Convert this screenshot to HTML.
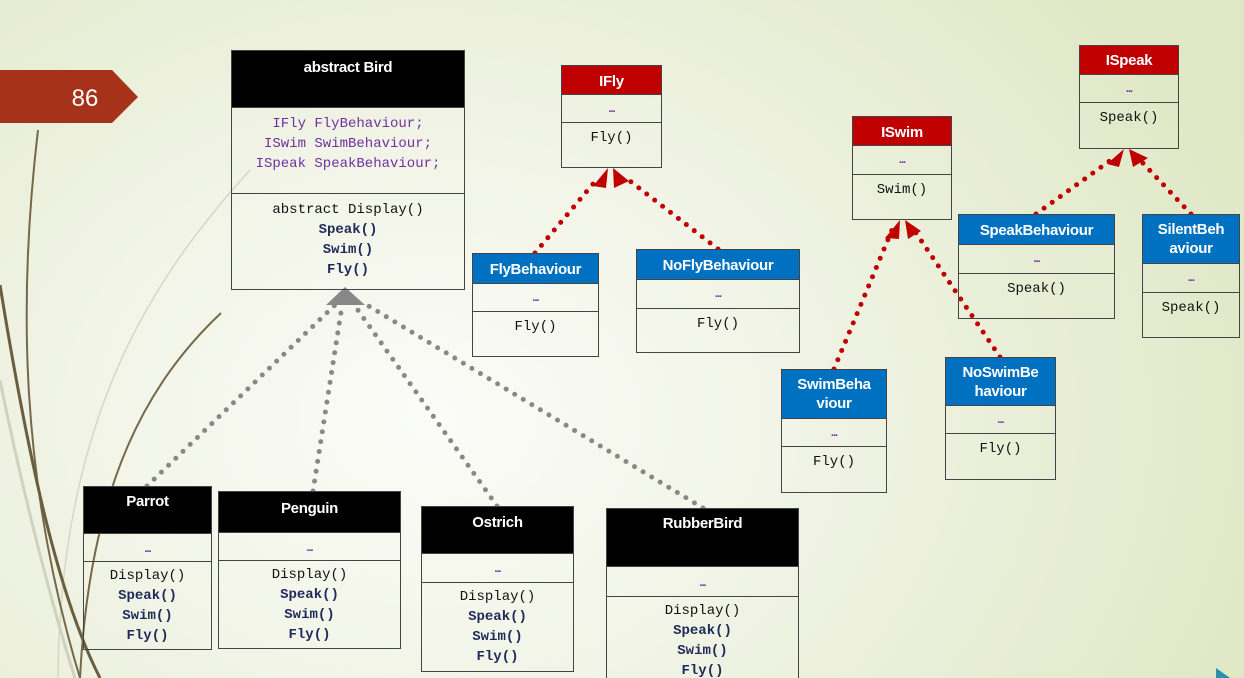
<!DOCTYPE html>
<html><head><meta charset="utf-8"><style>
*{margin:0;padding:0;box-sizing:border-box}
html,body{width:1244px;height:678px;overflow:hidden}
body{position:relative;font-family:"Liberation Sans",sans-serif;
background:radial-gradient(ellipse 900px 700px at 430px 420px,#fbfcf8 0%,#f1f4e6 40%,#dfe7c4 100%);}
.b{position:absolute;border:1px solid #444;}
.h{color:#fff;font-weight:bold;font-size:15px;text-align:center;line-height:19px;padding-top:6px;border-bottom:1px solid #444;letter-spacing:-0.3px}
.k{background:#000}.red{background:#c00000}.blu{background:#0070c0}
.r{border-bottom:1px solid #444;text-align:center;color:#7030a0;font-size:11px;font-weight:bold;letter-spacing:-1px}
.m{font-family:"Liberation Mono",monospace;font-size:14px;text-align:center;line-height:20px;color:#111;padding-top:5px}
.m .n{color:#1f2a5a;font-weight:bold}
.at{font-family:"Liberation Mono",monospace;font-size:14px;text-align:center;line-height:20px;color:#7030a0;padding-top:6px;border-bottom:1px solid #444}
svg{position:absolute;left:0;top:0}
</style></head><body>
<svg width="1244" height="678">
<path d="M250 170 C 150 280, 60 420, 58 678" stroke="#d4d8c4" stroke-width="1.5" fill="none"/>
<path d="M0 380 C 20 480, 50 600, 75 678" stroke="#cfd3bd" stroke-width="3" fill="none"/>
<path d="M38 130 C 18 300, 20 480, 80 678" stroke="#75694a" stroke-width="2" fill="none"/>
<path d="M0 285 C 30 470, 60 600, 100 678" stroke="#6b5e3e" stroke-width="3" fill="none"/>
<path d="M221 313 C 150 380, 90 480, 80 678" stroke="#75694a" stroke-width="2" fill="none"/>
<path d="M0 70 L112 70 L138 97 L112 123 L0 123 Z" fill="#a6321a"/>
<text x="85" y="106" fill="#fff" font-size="24" text-anchor="middle" font-family="Liberation Sans">86</text>
<path d="M1216 668 L1230 678 L1216 678Z" fill="#2a8fb0"/>
<g stroke="#888" stroke-width="5" stroke-linecap="round" stroke-dasharray="0 10" fill="none">
<line x1="147" y1="486" x2="335" y2="305"/><line x1="313" y1="491" x2="342" y2="306"/>
<line x1="497" y1="506" x2="355" y2="306"/><line x1="703" y1="508" x2="362" y2="302"/>
</g>
<path d="M345 287 L326 305 L365 305 Z" fill="#888"/>
<g stroke="#c00000" stroke-width="5" stroke-linecap="round" stroke-dasharray="0 10" fill="none">
<line x1="535" y1="253" x2="598" y2="178"/><line x1="718" y1="249" x2="626" y2="178"/>
<line x1="834" y1="369" x2="892" y2="230"/><line x1="1000" y1="357" x2="914" y2="230"/>
<line x1="1036" y1="214" x2="1111" y2="160"/><line x1="1191" y1="214" x2="1140" y2="160"/>
</g>
<g fill="#c00000">
<path d="M608 168 L593 186 L606 188Z"/><path d="M613 168 L614 188 L629 181Z"/>
<path d="M900 220 L885 238 L899 239Z"/><path d="M905 220 L908 239 L921 231Z"/>
<path d="M1124 149 L1107 164 L1119 167Z"/><path d="M1129 149 L1133 167 L1148 158Z"/>
</g>
</svg>

<div class="b" style="left:231px;top:50px;width:234px;height:240px">
<div class="h k" style="height:57px;padding-top:7px">abstract Bird</div>
<div class="at" style="height:86px">IFly FlyBehaviour;<br>ISwim SwimBehaviour;<br>ISpeak SpeakBehaviour;</div>
<div class="m" style="padding-top:6px">abstract Display()<br><span class="n">Speak()<br>Swim()<br>Fly()</span></div></div>

<div class="b" style="left:561px;top:65px;width:101px;height:103px"><div class="h red" style="height:29px">IFly</div><div class="r" style="height:28px;line-height:28px">...</div><div class="m">Fly()</div></div>
<div class="b" style="left:472px;top:253px;width:127px;height:104px"><div class="h blu" style="height:30px">FlyBehaviour</div><div class="r" style="height:28px;line-height:28px">...</div><div class="m">Fly()</div></div>
<div class="b" style="left:636px;top:249px;width:164px;height:104px"><div class="h blu" style="height:30px">NoFlyBehaviour</div><div class="r" style="height:29px;line-height:29px">...</div><div class="m">Fly()</div></div>
<div class="b" style="left:852px;top:116px;width:100px;height:104px"><div class="h red" style="height:29px">ISwim</div><div class="r" style="height:29px;line-height:29px">...</div><div class="m">Swim()</div></div>
<div class="b" style="left:1079px;top:45px;width:100px;height:104px"><div class="h red" style="height:29px;padding-top:5px">ISpeak</div><div class="r" style="height:28px;line-height:28px">...</div><div class="m">Speak()</div></div>
<div class="b" style="left:958px;top:214px;width:157px;height:105px"><div class="h blu" style="height:30px">SpeakBehaviour</div><div class="r" style="height:29px;line-height:29px">...</div><div class="m">Speak()</div></div>
<div class="b" style="left:1142px;top:214px;width:98px;height:124px"><div class="h blu" style="height:49px;padding-top:5px">SilentBeh<br>aviour</div><div class="r" style="height:29px;line-height:29px">...</div><div class="m">Speak()</div></div>
<div class="b" style="left:781px;top:369px;width:106px;height:124px"><div class="h blu" style="height:49px;padding-top:5px">SwimBeha<br>viour</div><div class="r" style="height:28px;line-height:28px">...</div><div class="m">Fly()</div></div>
<div class="b" style="left:945px;top:357px;width:111px;height:123px"><div class="h blu" style="height:48px;padding-top:5px">NoSwimBe<br>haviour</div><div class="r" style="height:28px;line-height:28px">...</div><div class="m">Fly()</div></div>

<div class="b" style="left:83px;top:486px;width:129px;height:164px"><div class="h k" style="height:47px;padding-top:5px">Parrot</div><div class="r" style="height:28px;line-height:30px">...</div><div class="m" style="padding-top:4px">Display()<br><span class="n">Speak()<br>Swim()<br>Fly()</span></div></div>
<div class="b" style="left:218px;top:491px;width:183px;height:158px"><div class="h k" style="height:41px;padding-top:7px">Penguin</div><div class="r" style="height:28px;line-height:30px">...</div><div class="m" style="padding-top:4px">Display()<br><span class="n">Speak()<br>Swim()<br>Fly()</span></div></div>
<div class="b" style="left:421px;top:506px;width:153px;height:166px"><div class="h k" style="height:47px;padding-top:6px">Ostrich</div><div class="r" style="height:29px;line-height:30px">...</div><div class="m" style="padding-top:4px">Display()<br><span class="n">Speak()<br>Swim()<br>Fly()</span></div></div>
<div class="b" style="left:606px;top:508px;width:193px;height:180px"><div class="h k" style="height:58px;padding-top:5px">RubberBird</div><div class="r" style="height:30px;line-height:32px">...</div><div class="m" style="padding-top:4px">Display()<br><span class="n">Speak()<br>Swim()<br>Fly()</span></div></div>
</body></html>
